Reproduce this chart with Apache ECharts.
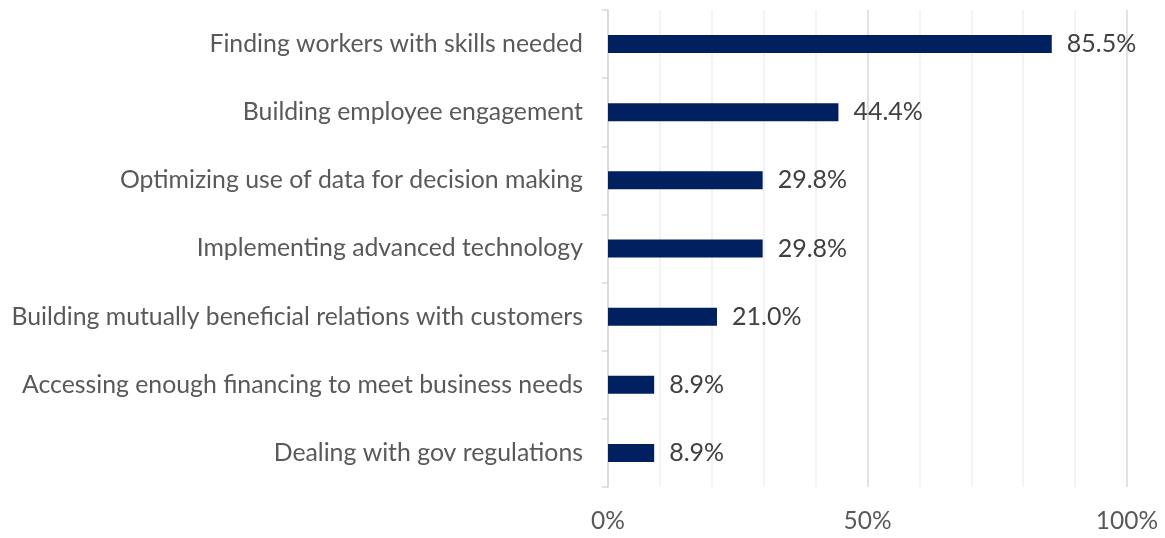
<!DOCTYPE html>
<html>
<head>
<meta charset="utf-8">
<script src="https://cdn.jsdelivr.net/npm/echarts@6/dist/echarts.min.js"></script>
<style>
  html, body { margin: 0; padding: 0; background: #ffffff; }
  #chart { width: 1165px; height: 538px; }
</style>
</head>
<body>
<div id="chart"></div>
<script>
// Business challenges, share of respondents (top to bottom)
const categories = [
  'Finding workers with skills needed',
  'Building employee engagement',
  'Optimizing use of data for decision making',
  'Implementing advanced technology',
  'Building mutually beneficial relations with customers',
  'Accessing enough financing to meet business needs',
  'Dealing with gov regulations'
];
const shares = [85.5, 44.4, 29.8, 29.8, 21.0, 8.9, 8.9];
const axisTicks = [0, 50, 100];

const FONT = 'Lato, "Open Sans", sans-serif';
const chart = echarts.init(document.getElementById('chart'));

chart.setOption({
  animation: false,
  grid: { left: 608, right: 38, top: 10, bottom: 51, containLabel: false },
  xAxis: {
    type: 'value',
    min: axisTicks[0],
    max: axisTicks[axisTicks.length - 1],
    interval: axisTicks[1] - axisTicks[0],
    axisLine: { show: false },
    axisTick: { show: false },
    axisLabel: {
      formatter: v => v + '%',
      color: '#595959',
      fontFamily: FONT,
      fontSize: 24.5,
      margin: 22
    },
    splitLine: { show: true, lineStyle: { color: '#d9d9d9', width: 1.5 } },
    minorSplitLine: { show: true, lineStyle: { color: '#f0f0f0', width: 1.5 } },
    minorTick: { show: false, splitNumber: 5 }
  },
  yAxis: {
    type: 'category',
    data: categories,
    inverse: true,
    axisLine: { show: true, lineStyle: { color: '#d9d9d9', width: 1.5 } },
    axisTick: { show: true, length: 6, lineStyle: { color: '#d9d9d9', width: 1.5 } },
    axisLabel: {
      color: '#595959',
      fontFamily: FONT,
      fontSize: 24.8,
      margin: 25
    }
  },
  series: [{
    type: 'bar',
    data: shares,
    barWidth: 18,
    itemStyle: { color: '#002060' },
    label: {
      show: true,
      position: 'right',
      distance: 15,
      formatter: p => p.value.toFixed(1) + '%',
      color: '#404040',
      fontFamily: FONT,
      fontSize: 25
    }
  }]
});
</script>
</body>
</html>
